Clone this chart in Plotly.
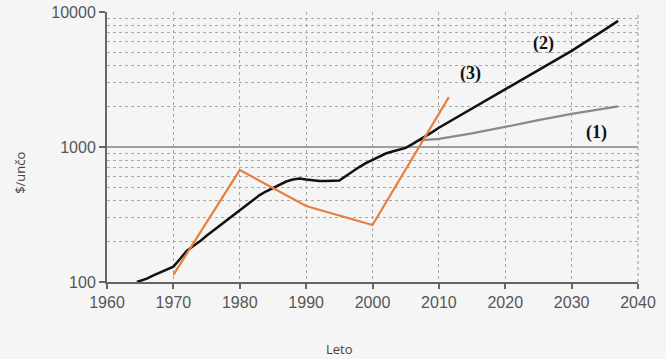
import plotly.graph_objects as go

# (2) historical + projected price (black)
years_2 = [1964.5, 1966, 1967, 1968, 1969, 1970, 1971, 1972, 1973, 1974, 1975, 1976, 1977,
           1978, 1979, 1980, 1981, 1982, 1983, 1984, 1985, 1986, 1987, 1988, 1989, 1990,
           1991, 1992, 1993, 1994, 1995, 1996, 1997, 1998, 1999, 2000, 2001, 2002, 2003,
           2004, 2005, 2006, 2007, 2008, 2009, 2010, 2015, 2020, 2025, 2030, 2035, 2037]
values_2 = [100, 106, 112, 118, 124, 130, 148, 170, 185, 200, 220, 240, 262,
            285, 315, 342, 370, 405, 440, 470, 495, 525, 555, 575, 585, 575,
            565, 560, 560, 560, 565, 610, 660, 710, 760, 800, 850, 895, 925,
            950, 985, 1050, 1120, 1200, 1290, 1390, 1930, 2650, 3700, 5150, 7400, 8600]

# (1) projection (gray)
years_1 = [2007, 2010, 2015, 2020, 2025, 2030, 2035, 2037]
values_1 = [1120, 1150, 1260, 1420, 1580, 1760, 1930, 2000]

# (3) decade points (orange)
years_3 = [1970, 1980, 1990, 2000, 2011.5]
values_3 = [113, 675, 365, 264, 2340]

x_ticks = [1960, 1970, 1980, 1990, 2000, 2010, 2020, 2030, 2040]
y_ticks = [100, 1000, 10000]
y_minor = [m * d for d in (100, 1000) for m in range(2, 10)]

labels = ["(1)", "(2)", "(3)"]
label_x = [2033.8, 2025.8, 2014.7]
label_logy = [3.11, 3.77, 3.548]

fig = go.Figure()
fig.add_trace(go.Scatter(x=years_1, y=values_1, mode="lines",
                         line=dict(color="#8a8a8a", width=2.2), showlegend=False))
fig.add_trace(go.Scatter(x=years_2, y=values_2, mode="lines",
                         line=dict(color="#111111", width=2.5), showlegend=False))
fig.add_trace(go.Scatter(x=years_3, y=values_3, mode="lines",
                         line=dict(color="#e5813c", width=2.2), showlegend=False))

for t, xv, yv in zip(labels, label_x, label_logy):
    fig.add_annotation(x=xv, y=yv, xref="x", yref="y", text="<b>" + t + "</b>",
                       showarrow=False,
                       font=dict(family="Liberation Serif", size=18, color="#111111"))

fig.add_annotation(x=0.437, y=-0.248, xref="paper", yref="paper", text="Leto",
                   xanchor="center", yanchor="middle",
                   showarrow=False, font=dict(family="Open Sans", size=13, color="#444444"))
fig.add_annotation(x=-0.164, y=0.404, xref="paper", yref="paper", text="$/unčo",
                   xanchor="center", yanchor="middle",
                   textangle=-90, showarrow=False,
                   font=dict(family="Open Sans", size=13, color="#444444"))

# right border of plot area (dotted, like the other vertical gridlines)
fig.add_shape(type="line", xref="paper", yref="paper", x0=1, x1=1, y0=0, y1=1,
              line=dict(color="#a8a8a8", width=1.2, dash="3px,3px"))

grid_dash = "3px,3px"
fig.update_layout(
    width=666, height=359,
    margin=dict(l=107, r=28, t=12, b=77),
    paper_bgcolor="#f5f5f5", plot_bgcolor="#f5f5f5",
    font=dict(family="Liberation Sans", size=16, color="#555555"),
    xaxis=dict(range=[1960, 2040], tickvals=x_ticks, showgrid=True, automargin=False,
               gridcolor="#a8a8a8", griddash=grid_dash, gridwidth=1.2,
               showline=True, linecolor="#666666", linewidth=2,
               ticks="outside", ticklen=5, tickwidth=2, tickcolor="#666666",
               zeroline=False, tickfont=dict(size=16, color="#555555")),
    yaxis=dict(type="log", range=[2, 4], tickvals=y_ticks, automargin=False,
               ticktext=["100", "1000", "10000"],
               showgrid=True, gridcolor="#a0a0a0", gridwidth=2,
               showline=True, linecolor="#666666", linewidth=2,
               ticks="outside", ticklen=6, tickwidth=2, tickcolor="#666666",
               zeroline=False, tickfont=dict(size=16, color="#555555"),
               minor=dict(tickvals=y_minor, showgrid=True, gridcolor="#a8a8a8",
                          griddash=grid_dash, gridwidth=1.2, ticks="")),
)

fig.write_html(
    "out.html",
    config={"displayModeBar": False},
    post_script="document.body.style.margin='0';document.body.style.background='#f5f5f5';",
)
